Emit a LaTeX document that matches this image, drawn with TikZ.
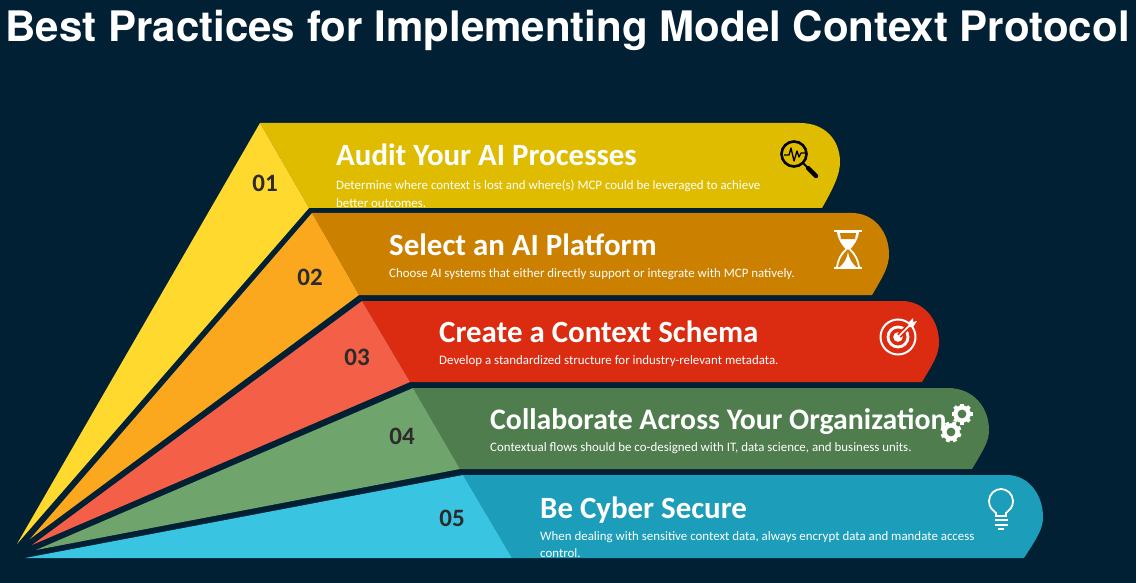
\documentclass[tikz,border=0pt]{standalone}
\usepackage{fontspec}
\setmainfont{Carlito}
\newfontfamily\titlefont{TeX Gyre Heros}
\definecolor{bgcol}{HTML}{012033}
\definecolor{bandA}{HTML}{E0BC00}
\definecolor{bandB}{HTML}{CC8000}
\definecolor{bandC}{HTML}{DB2B10}
\definecolor{bandD}{HTML}{4F7D4D}
\definecolor{bandE}{HTML}{1C9DB9}
\definecolor{wedgeA}{HTML}{FFD92E}
\definecolor{wedgeB}{HTML}{FCA81F}
\definecolor{wedgeC}{HTML}{F45F47}
\definecolor{wedgeD}{HTML}{6FA56C}
\definecolor{wedgeE}{HTML}{39C4E2}
\definecolor{numcol}{HTML}{2B2B2B}
\tikzset{
  numlabel/.style={font=\fontsize{25}{25}\selectfont\bfseries,text=numcol,inner sep=0pt},
  headlabel/.style={font=\fontsize{30.9}{31}\selectfont\bfseries,text=white,anchor=base west,inner sep=0pt},
  textlabel/.style={font=\fontsize{12.9}{17.5}\selectfont,text=white,anchor=base west,inner sep=0pt,align=left},
  iconline/.style={white,line width=2pt},
}
\begin{document}
\begin{tikzpicture}[x=1pt,y=-1pt]
\useasboundingbox (0,0) rectangle (1136,583);
\fill[bgcol] (0,0) rectangle (1136,583);
\node[font=\titlefont\fontsize{42.05}{42}\selectfont\bfseries,text=white,inner sep=0pt] (title) at (567.5,30.5) {Best Practices for Implementing Model Context Protocol};

% bands
\fill[bandA] (260,123) -- (800,123) .. controls (825,123) and (840,140) .. (840,162) .. controls (840,174) and (834,187) .. (822,208) -- (309,208) -- cycle;
\fill[bandB] (312,213) -- (852,213) .. controls (874,213) and (889,232) .. (889,254) .. controls (889,266) and (884,275) .. (872,295) -- (359,295) -- cycle;
\fill[bandC] (362,301) -- (902,301) .. controls (924,301) and (939,320) .. (939,342) .. controls (939,354) and (934,362) .. (922,382) -- (410,382) -- cycle;
\fill[bandD] (413,388) -- (948,388) .. controls (973,388) and (989,407) .. (989,430) .. controls (989,441) and (984,449) .. (972,469) -- (460,469) -- cycle;
\fill[bandE] (463,475) -- (1007,475) .. controls (1028,475) and (1043,494) .. (1043,517) .. controls (1043,529) and (1037,538) .. (1024,558) -- (512,558) -- cycle;

% wedges
\fill[wedgeA] (17,544) -- (260,123) -- (309,208) -- cycle;
\fill[wedgeB] (30,539) -- (312,213) -- (359,295) -- cycle;
\fill[wedgeC] (32,545) -- (362,301) -- (410,382) -- cycle;
\fill[wedgeD] (36,550) -- (413,388) -- (460,469) -- cycle;
\fill[wedgeE] (25,558) -- (463,475) -- (512,558) -- cycle;

% numbers
\node[numlabel] (numA) at (265,183) {01};
\node[numlabel] (numB) at (310,277) {02};
\node[numlabel] (numC) at (357,357) {03};
\node[numlabel] (numD) at (402,436) {04};
\node[numlabel] (numE) at (452,518) {05};

% headings
\node[headlabel] (headA) at (336,166) {Audit Your AI Processes};
\node[headlabel] (headB) at (389,255) {Select an AI Platform};
\node[headlabel] (headC) at (439,342) {Create a Context Schema};
\node[headlabel,font=\fontsize{29.8}{30}\selectfont\bfseries] (headD) at (490,429) {Collaborate Across Your Organization};
\node[headlabel] (headE) at (540,518) {Be Cyber Secure};

% descriptions
\node[textlabel] (textA) at (336,207.5) {Determine where context is lost and where(s) MCP could be leveraged to achieve\\better outcomes.};
\node[textlabel] (textB) at (389,277) {Choose AI systems that either directly support or integrate with MCP natively.};
\node[textlabel] (textC) at (439,364) {Develop a standardized structure for industry-relevant metadata.};
\node[textlabel] (textD) at (490,451) {Contextual flows should be co-designed with IT, data science, and business units.};
\node[textlabel] (textE) at (540,557.5) {When dealing with sensitive context data, always encrypt data and mandate access\\control.};

% magnifier
\draw[black,line width=2.6pt] (794,154) circle (12.5);
\draw[black,line width=1.8pt] (803,163) -- (808,168);
\draw[black,line width=4.4pt,line cap=round] (808,168) -- (816,176);
\draw[black,line width=1.3pt,line join=round] (784,155) -- (789,155) -- (791,148) -- (794,161) -- (797,151) -- (799,157) -- (801,153) -- (805,153);

% hourglass
\draw[white,line width=2.6pt] (834,231) -- (862,231);
\draw[white,line width=2.6pt] (834,268) -- (862,268);
\fill[white] (837,232) .. controls (838,240) and (842,245) .. (846,249.5) -- (850,249.5) .. controls (854,245) and (858,240) .. (859,232) -- cycle;
\fill[bandB] (840,233) -- (856,233) -- (855,239) -- (841,239) -- cycle;
\draw[white,line width=1.8pt] (846,249.5) .. controls (841,254) and (838,260) .. (837,267);
\draw[white,line width=1.8pt] (850,249.5) .. controls (855,254) and (858,260) .. (859,267);
\fill[white] (848,252) .. controls (847,259) and (844,263) .. (840,267) -- (856,267) .. controls (852,263) and (849,259) .. (848,252) -- cycle;

% target
\draw[iconline] (898,337) circle (17.5);
\draw[iconline,line width=2.8pt] (898,337) circle (10);
\fill[white] (898,337) circle (4.8);
\draw[bandC,line width=5pt] (899,336) -- (913,322);
\draw[white,line width=1.6pt] (898,337) -- (912,323);
\fill[white] (908,323) -- (913,318) -- (913,322) -- (917,321) -- (913,327) -- (909,327) -- cycle;

% gears
\foreach \a in {0,45,...,315} {
  \draw[white,line width=3.8pt] (962,414) -- ++(\a:10.5);
  \draw[white,line width=3.8pt] (951,432) -- ++(\a+20:10.5);
}
\fill[white] (962,414) circle (8.8);
\fill[white] (951,432) circle (8.8);
\fill[bandD] (962,414) circle (4.4);
\fill[bandD] (951,432) circle (4.4);

% bulb
\draw[white,line width=1.8pt] (996,516) -- (996,513) .. controls (993,510) and (989,508) .. (989,501) .. controls (989,494) and (995,489) .. (1001,489) .. controls (1007,489) and (1013,494) .. (1013,501) .. controls (1013,508) and (1009,510) .. (1006,513) -- (1006,516) -- cycle;
\draw[white,line width=2pt] (995,519.5) -- (1008,519.5);
\draw[white,line width=2pt] (995,524.5) -- (1008,524.5);
\draw[white,line width=2pt] (998,529) -- (1004,529);
\end{tikzpicture}
\end{document}
